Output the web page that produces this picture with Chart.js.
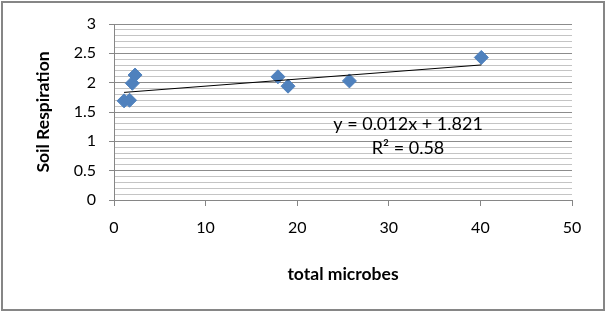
<!DOCTYPE html>
<html lang="en">
<head>
    <meta charset="UTF-8">
    <title>Soil Respiration vs total microbes</title>
    <script src="https://cdn.jsdelivr.net/npm/chart.js@4.4.1/dist/chart.umd.min.js"></script>
    <style>
        html, body {
            margin: 0;
            padding: 0;
            background: #fff;
        }

        .chart-box {
            position: relative;
            width: 606px;
            height: 312px;
        }
    </style>
</head>
<body>
    <div class="chart-box">
        <canvas id="scatterChart"></canvas>
    </div>

    <script>
        // Values
        const microbes = [1.1, 1.7, 2.0, 2.3, 17.9, 19.0, 25.7, 40.1];
        const respiration = [1.69, 1.70, 1.99, 2.13, 2.10, 1.94, 2.03, 2.43];

        const xTicks = [0, 10, 20, 30, 40, 50];
        const yTicks = [0, 0.5, 1, 1.5, 2, 2.5, 3];
        const yMinorStep = 0.1;

        // Excel linear trendline
        const trendSlope = 0.012;
        const trendIntercept = 1.821;
        const equationLines = ['y = 0.012x + 1.821', 'R² = 0.58'];
        const equationAnchor = { x: 32.1, y1: 1.29, y2: 0.88 };

        const FONT = 'Lato, "DejaVu Sans", sans-serif';
        const MARKER = '#4F81BD';

        const isMajor = v => Math.abs(v * 2 - Math.round(v * 2)) < 1e-6;

        const points = microbes.map((x, i) => ({ x: x, y: respiration[i] }));
        const xMin = Math.min(...microbes);
        const xMax = Math.max(...microbes);
        const trendPoints = [xMin, xMax].map(x => ({ x: x, y: trendSlope * x + trendIntercept }));

        // equation text + outer frame
        const extras = {
            id: 'extras',
            afterDatasetsDraw(chart) {
                const ctx = chart.ctx;
                const xs = chart.scales.x, ys = chart.scales.y;
                ctx.save();
                ctx.fillStyle = '#000';
                ctx.font = '18px ' + FONT;
                ctx.textAlign = 'center';
                ctx.textBaseline = 'middle';
                const px = xs.getPixelForValue(equationAnchor.x);
                ctx.fillText(equationLines[0], px, ys.getPixelForValue(equationAnchor.y1));
                ctx.fillText(equationLines[1], px, ys.getPixelForValue(equationAnchor.y2));
                ctx.restore();
            },
            afterDraw(chart) {
                const ctx = chart.ctx;
                ctx.save();
                ctx.strokeStyle = '#868686';
                ctx.lineWidth = 2;
                ctx.strokeRect(2, 2, chart.width - 4, chart.height - 4);
                ctx.restore();
            }
        };

        new Chart(document.getElementById('scatterChart'), {
            type: 'scatter',
            data: {
                datasets: [{
                    label: 'trend',
                    type: 'line',
                    data: trendPoints,
                    borderColor: '#000',
                    borderWidth: 1,
                    pointRadius: 0,
                    fill: false
                }, {
                    label: 'Soil Respiration',
                    data: points,
                    pointStyle: 'rectRot',
                    pointRadius: 7,
                    pointBackgroundColor: MARKER,
                    pointBorderColor: MARKER,
                    pointBorderWidth: 1
                }]
            },
            options: {
                responsive: true,
                maintainAspectRatio: false,
                animation: false,
                devicePixelRatio: 1,
                layout: { padding: { top: 24, right: 34, left: 0, bottom: 0 } },
                plugins: {
                    legend: { display: false },
                    tooltip: { enabled: false }
                },
                scales: {
                    x: {
                        type: 'linear',
                        min: 0,
                        max: 50,
                        afterBuildTicks: s => { s.ticks = xTicks.map(v => ({ value: v })); },
                        afterFit: s => { s.height = 112; },
                        border: { display: true, color: '#868686', width: 1 },
                        grid: {
                            drawOnChartArea: false,
                            drawTicks: true,
                            tickLength: 6,
                            tickColor: '#868686'
                        },
                        ticks: {
                            padding: 12,
                            color: '#000',
                            font: { family: FONT, size: 16 }
                        },
                        title: {
                            display: true,
                            text: 'total microbes',
                            color: '#000',
                            padding: { top: 0, bottom: 27 },
                            font: { family: FONT, size: 17.5, weight: 'bold' }
                        }
                    },
                    y: {
                        type: 'linear',
                        min: 0,
                        max: 3,
                        afterBuildTicks: s => {
                            const top = yTicks[yTicks.length - 1];
                            const ticks = [];
                            for (let i = 0; i * yMinorStep <= top + 1e-9; i++) {
                                ticks.push({ value: +(i * yMinorStep).toFixed(2) });
                            }
                            s.ticks = ticks;
                        },
                        afterFit: s => { s.width = 114; },
                        border: { display: true, color: '#868686', width: 1 },
                        grid: {
                            drawOnChartArea: true,
                            tickLength: 5,
                            color: c => isMajor(c.tick.value) ? '#8c8c8c' : '#c4c4c4',
                            tickColor: c => isMajor(c.tick.value) ? '#868686' : 'rgba(0,0,0,0)'
                        },
                        ticks: {
                            autoSkip: false,
                            padding: 13,
                            color: '#000',
                            font: { family: FONT, size: 16 },
                            callback: v => yTicks.some(t => Math.abs(t - v) < 1e-6) ? String(v) : ''
                        },
                        title: {
                            display: true,
                            text: 'Soil Respiration',
                            color: '#000',
                            padding: { top: 33, bottom: 0 },
                            font: { family: FONT, size: 17.5, weight: 'bold' }
                        }
                    }
                }
            },
            plugins: [extras]
        });
    </script>
</body>
</html>
